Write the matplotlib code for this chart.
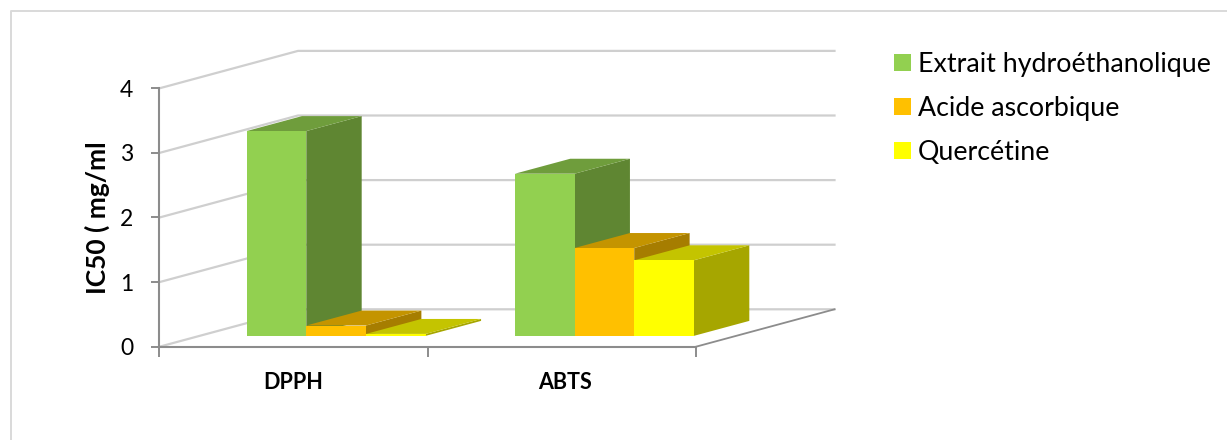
import matplotlib
matplotlib.use("Agg")
import matplotlib.pyplot as plt
from matplotlib.patches import Rectangle
from matplotlib.lines import Line2D

plt.rcParams["font.family"] = ["Lato", "DejaVu Sans"]

# Data
categories = ["DPPH", "ABTS"]
series_names = ["Extrait hydroéthanolique", "Acide ascorbique", "Quercétine"]
extrait = [3.17, 2.51]
acide = [0.16, 1.36]
quercetine = [0.03, 1.17]
y_ticks = [0, 1, 2, 3, 4]

# Colours for each series: front, side and top faces
front_colors = ["#92D050", "#FFC000", "#FFFF00"]
side_colors = ["#5F8632", "#A67D00", "#A6A600"]
top_colors = ["#6F9D3C", "#C49400", "#C4C400"]

W, H = 1227, 440
DEPTH_DX = 0.5163   # category units covered by the full floor depth
DEPTH_DY = 0.579    # value units covered by the full floor depth
BAR_WIDTH = 0.2225
GROUP_MARGIN = 0.175
BAR_DEPTH_FRONT = 0.29
BAR_DEPTH_BACK = 0.69

GRID = "#CFCFCF"
AXIS = "#8C8C8C"


def oblique(x, y, depth):
    """Project a point of the 3D box onto the axes' data plane."""
    return x + depth * DEPTH_DX, y + depth * DEPTH_DY


def face(ax, corners, color, z):
    pts = [oblique(*c) for c in corners]
    ax.fill([p[0] for p in pts], [p[1] for p in pts], color=color, lw=0,
            clip_on=False, zorder=z)


def draw_bar(ax, x0, value, idx, z):
    x1 = x0 + BAR_WIDTH
    d0, d1 = BAR_DEPTH_FRONT, BAR_DEPTH_BACK
    if value <= 0:
        return
    # Base of the bar sits on the floor at the front depth, so height is
    # measured from y = 0 in the sheared plane.
    face(ax, [(x1, 0, d0), (x1, 0, d1), (x1, value, d1), (x1, value, d0)],
         side_colors[idx], z)
    face(ax, [(x0, value, d0), (x1, value, d0), (x1, value, d1), (x0, value, d1)],
         top_colors[idx], z + 0.1)
    face(ax, [(x0, 0, d0), (x1, 0, d0), (x1, value, d0), (x0, value, d0)],
         front_colors[idx], z + 0.2)


fig = plt.figure(figsize=(W / 100, H / 100), dpi=100)
fig.patch.set_facecolor("white")

# Outer chart frame
fig.add_artist(Line2D([11 / W, 11 / W, 1], [0, 1 - 11.3 / H, 1 - 11.3 / H],
                      color="#D9D9D9", lw=1.4, transform=fig.transFigure))

left, right = 159.5 / W, 696 / W
bottom, top = 1 - 346.7 / H, 1 - 88.3 / H
ax = fig.add_axes([left, bottom, right - left, top - bottom])
ax.set_xlim(0, len(categories))
ax.set_ylim(y_ticks[0], y_ticks[-1])
ax.patch.set_alpha(0)

for s in ("top", "right"):
    ax.spines[s].set_visible(False)
for s in ("left", "bottom"):
    ax.spines[s].set_color(AXIS)
    ax.spines[s].set_linewidth(1.5)
    ax.spines[s].set_zorder(6)

# Gridlines on the side wall and back wall
for v in y_ticks:
    xs, ys = zip(oblique(0, v, 0), oblique(0, v, 1), oblique(2, v, 1))
    ax.plot(xs, ys, color=GRID, lw=1.6, clip_on=False, zorder=1,
            solid_joinstyle="miter")

# Right-hand floor edge
xs, ys = zip(oblique(2, 0, 0), oblique(2, 0, 1))
ax.plot(xs, ys, color=AXIS, lw=1.3, clip_on=False, zorder=2)

# Bars, drawn left to right so each one covers its neighbour's side face
series_values = [extrait, acide, quercetine]
z = 3.0
for c in range(len(categories)):
    for i, values in enumerate(series_values):
        x0 = c + GROUP_MARGIN + i * BAR_WIDTH
        draw_bar(ax, x0, values[c], i, z)
        z += 0.3

# Axis ticks and labels
ax.set_yticks(y_ticks)
ax.set_xticks(range(len(categories) + 1))
ax.set_xticklabels([])
ax.tick_params(axis="y", length=6, width=1.4, color=AXIS, labelsize=16.5,
               pad=13, labelcolor="black")
ax.tick_params(axis="x", length=7, width=1.4, color=AXIS)

label_offsets = [0, 3]
for c, name in enumerate(categories):
    ax.annotate(name, xy=(c + 0.5, 0), xycoords="data",
                xytext=(label_offsets[c] * 0.72, -25.5), textcoords="offset points",
                ha="center", va="center", fontsize=15.5, fontweight="bold",
                color="black", annotation_clip=False)

fig.text(97 / W, 1 - 218 / H, "IC50 ( mg/ml", rotation=90, ha="center",
         va="center", fontsize=19, fontweight="bold", color="black")

# Legend
handles = [Rectangle((0, 0), 1, 1, color=c, lw=0) for c in front_colors]
fig.legend(handles, series_names, loc="upper left",
           bbox_to_anchor=(894 / W, 1 - 52 / H), bbox_transform=fig.transFigure,
           frameon=False, fontsize=19.3, handlelength=0.635, handleheight=0.635,
           handletextpad=0.26, labelspacing=0.71, borderpad=0, borderaxespad=0)

fig.savefig("out.png", dpi=100)
